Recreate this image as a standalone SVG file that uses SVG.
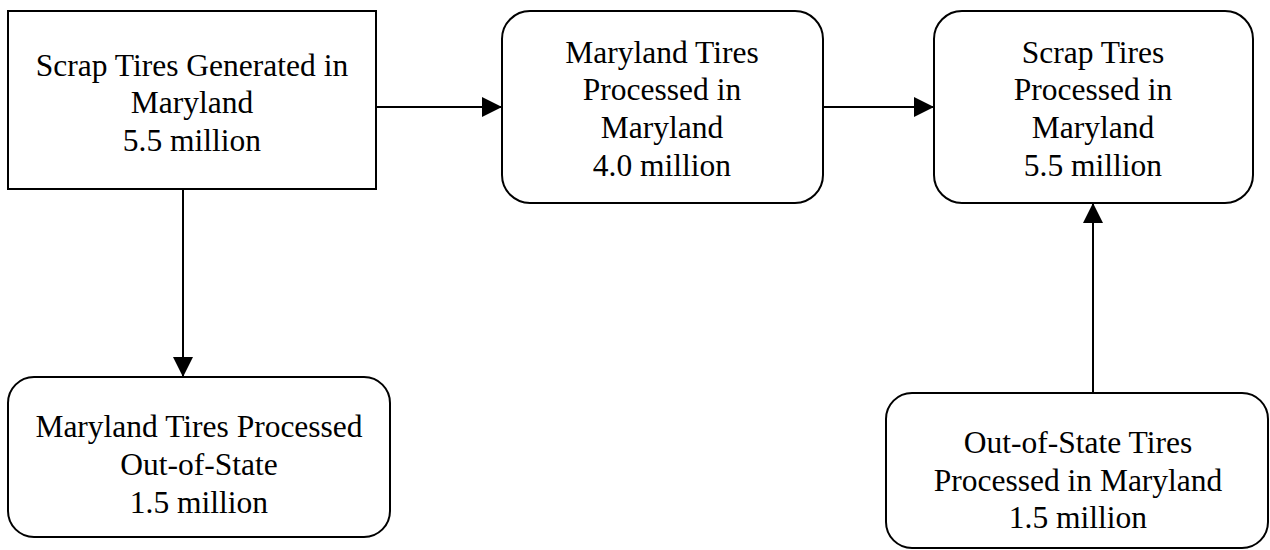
<svg xmlns="http://www.w3.org/2000/svg" width="1270" height="550" viewBox="0 0 1270 550">
<style>
.box{fill:#fff;stroke:#000;stroke-width:2}
.t{font-family:"Liberation Serif","Times New Roman",serif;font-size:31.5px;fill:#000;text-anchor:middle}
.c{stroke:#000;stroke-width:2;fill:none}
</style>
<defs>
<marker id="ah" viewBox="0 0 20 20" refX="20" refY="10" markerWidth="20" markerHeight="20" markerUnits="userSpaceOnUse" orient="auto">
<path d="M0,0 L20,10 L0,20 Z" fill="#000"/>
</marker>
</defs>
<rect width="1270" height="550" fill="#fff"/>
<g id="connectors">
<line class="c" x1="375" y1="107" x2="502" y2="107" marker-end="url(#ah)"/>
<line class="c" x1="823" y1="107" x2="934" y2="107" marker-end="url(#ah)"/>
<line class="c" x1="183" y1="189" x2="183" y2="377" marker-end="url(#ah)"/>
<line class="c" x1="1093" y1="393" x2="1093" y2="203" marker-end="url(#ah)"/>
</g>
<g id="n1">
<rect class="box" x="8" y="11" width="368" height="178"/>
<text class="t" x="192" y="76">Scrap Tires Generated in</text>
<text class="t" x="192" y="113">Maryland</text>
<text class="t" x="192" y="151">5.5 million</text>
</g>
<g id="n2">
<rect class="box" x="502" y="11" width="321" height="192" rx="28"/>
<text class="t" x="662" y="63">Maryland Tires</text>
<text class="t" x="662" y="100">Processed in</text>
<text class="t" x="662" y="138">Maryland</text>
<text class="t" x="662" y="176">4.0 million</text>
</g>
<g id="n3">
<rect class="box" x="934" y="11" width="319" height="192" rx="28"/>
<text class="t" x="1093" y="63">Scrap Tires</text>
<text class="t" x="1093" y="100">Processed in</text>
<text class="t" x="1093" y="138">Maryland</text>
<text class="t" x="1093" y="176">5.5 million</text>
</g>
<g id="n4">
<rect class="box" x="8" y="377" width="382" height="160" rx="26"/>
<text class="t" x="199" y="437">Maryland Tires Processed</text>
<text class="t" x="199" y="475">Out-of-State</text>
<text class="t" x="199" y="513">1.5 million</text>
</g>
<g id="n5">
<rect class="box" x="886" y="393" width="382" height="155" rx="26"/>
<text class="t" x="1078" y="453">Out-of-State Tires</text>
<text class="t" x="1078" y="491">Processed in Maryland</text>
<text class="t" x="1078" y="528">1.5 million</text>
</g>
</svg>
